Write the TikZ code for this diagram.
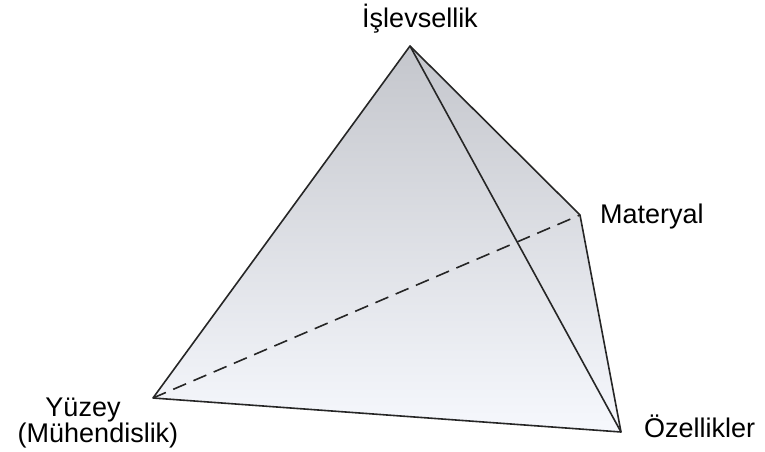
\documentclass[tikz,border=0pt]{standalone}
\usepackage{fontspec}
\setmainfont{Liberation Sans}
\begin{document}
\begin{tikzpicture}[x=1pt,y=-1pt,
  edge/.style={draw=black!85,line width=1.6pt,line join=round},
  hidden/.style={draw=black!85,line width=1.6pt,dash pattern=on 14pt off 8pt},
  lbl/.style={font=\fontsize{27}{32}\selectfont,inner sep=0pt,anchor=base}]
\useasboundingbox (0,0) rectangle (765,452);
\coordinate (A) at (410,46);
\coordinate (R) at (580,215);
\coordinate (L) at (153,398);
\coordinate (B) at (621,432);
\shade[top color={rgb,255:red,196;green,198;blue,204},bottom color={rgb,255:red,246;green,248;blue,253}]
  (A) -- (R) -- (B) -- (L) -- cycle;
\draw[hidden] (L) -- (R);
\draw[edge] (A) -- (L) -- (B) -- (R) -- cycle;
\draw[edge] (A) -- (B);
\node[lbl] (n1) at (420,28) {İşlevsellik};
\node[lbl,anchor=base west] (n2) at (600,223) {Materyal};
\node[lbl] (n3) at (83,416) {Yüzey};
\node[lbl] (n4) at (98,442) {(Mühendislik)};
\node[lbl,anchor=base west] (n5) at (644,437) {Özellikler};
\end{tikzpicture}
\end{document}
